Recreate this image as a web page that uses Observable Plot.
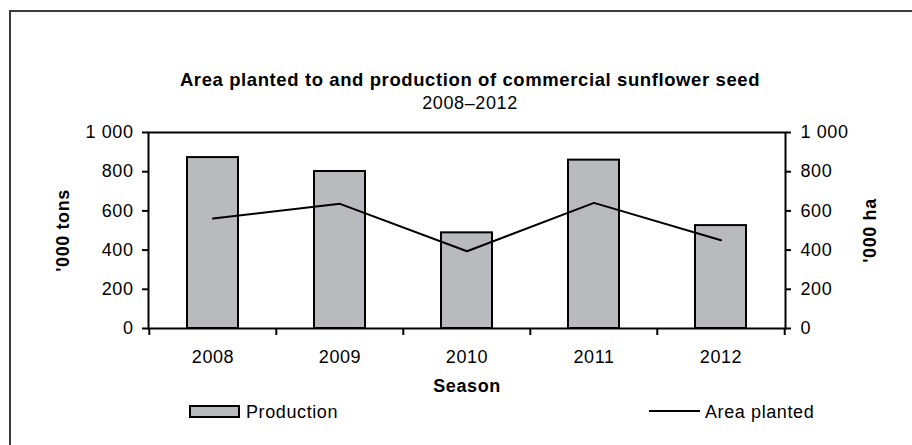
<!DOCTYPE html>
<html><head><meta charset="utf-8">
<script src="https://cdn.jsdelivr.net/npm/d3@7"></script>
<script src="https://cdn.jsdelivr.net/npm/@observablehq/plot@0.6"></script>
<style>
html,body{margin:0;padding:0;background:#fff;overflow:hidden;}
#wrap{position:relative;width:912px;height:445px;font-family:"Liberation Sans",Arial,sans-serif;color:#000;letter-spacing:0.6px;}
#border{position:absolute;left:9px;top:10px;width:1000px;height:1000px;border-left:2px solid #3c3c3c;border-top:2px solid #3c3c3c;}
#chart{position:absolute;left:0;top:0;}
.t{position:absolute;white-space:nowrap;}
#title{left:28px;width:884px;top:71px;text-align:center;font-weight:bold;font-size:18.5px;line-height:18.5px;}
#subtitle{left:28px;width:884px;top:94px;text-align:center;font-size:18px;line-height:18px;}
.lg{top:403px;font-size:18px;line-height:18px;}
#sw1{position:absolute;left:189px;top:405px;width:51px;height:13px;box-sizing:border-box;border:2px solid #000;background:#b9babd;}
#sw2{position:absolute;left:649px;top:410px;width:51px;height:2px;background:#000;}
</style>
</head><body>
<div id="wrap">
  <div id="border"></div>
  <div id="chart"></div>
  <div class="t" id="title"></div>
  <div class="t" id="subtitle"></div>
  <div id="sw1"></div><div class="t lg" id="lg1" style="left:246px"></div>
  <div id="sw2"></div><div class="t lg" id="lg2" style="left:705px"></div>
</div>
<script>
const titleText = "Area planted to and production of commercial sunflower seed";
const subtitleText = "2008–2012";
const seasons = ["2008", "2009", "2010", "2011", "2012"];
const production = [872, 801, 488, 859, 525];
const areaPlanted = [561, 636, 394, 641, 450];
const yTicks = [0, 200, 400, 600, 800, 1000];
const yTickLabels = ["0", "200", "400", "600", "800", "1 000"];
const seriesNames = ["Production", "Area planted"];
const leftLabel = "'000 tons";
const rightLabel = "'000 ha";
const xLabel = "Season";

const data = seasons.map((s, i) => ({season: s, production: production[i], area: areaPlanted[i]}));
const fmt = d => yTickLabels[yTicks.indexOf(d)];

const W = 912, H = 398, mL = 148, mR = 127, mT = 132, mB = 70;
const step = (W - mL - mR) / seasons.length;

const chart = Plot.plot({
  width: W, height: H, marginLeft: mL, marginRight: mR, marginTop: mT, marginBottom: mB,
  style: {fontFamily: "'Liberation Sans', Arial, sans-serif", fontSize: "18px", color: "#000", background: "transparent", letterSpacing: "0.6px"},
  x: {domain: seasons, paddingInner: 0.6, paddingOuter: 0.3},
  y: {domain: [0, 1000]},
  marks: [
    Plot.barY(data, {x: "season", y: "production", fill: "#b9babd", stroke: "#000", strokeWidth: 2}),
    Plot.line(data, {x: "season", y: "area", stroke: "#000", strokeWidth: 2}),
    Plot.frame({stroke: "#000", strokeWidth: 2}),
    Plot.axisY({anchor: "left", ticks: yTicks, tickFormat: fmt, tickSize: 6, tickPadding: 9, label: null, strokeWidth: 2}),
    Plot.axisY({anchor: "right", ticks: yTicks, tickFormat: fmt, tickSize: 5, tickPadding: 10, label: null, strokeWidth: 2}),
    Plot.axisX({anchor: "bottom", tickSize: 0, tickPadding: 22, label: null}),
    Plot.axisX({anchor: "bottom", ticks: seasons, tickFormat: () => "", tickSize: 7, tickPadding: 0, dx: -step / 2, label: null, strokeWidth: 2}),
    Plot.axisX({anchor: "bottom", ticks: seasons.slice(-1), tickFormat: () => "", tickSize: 7, tickPadding: 0, dx: step / 2, label: null, strokeWidth: 2}),
    Plot.text([leftLabel], {frameAnchor: "left", dx: -85, rotate: -90, fontWeight: "bold", lineAnchor: "middle", textAnchor: "middle", fill: "#000"}),
    Plot.text([rightLabel], {frameAnchor: "right", dx: 85, rotate: -90, fontWeight: "bold", lineAnchor: "middle", textAnchor: "middle", fill: "#000"}),
    Plot.text([xLabel], {frameAnchor: "bottom", dy: 58, fontWeight: "bold", lineAnchor: "middle", textAnchor: "middle", fill: "#000"})
  ]
});
document.getElementById("chart").appendChild(chart);
document.getElementById("title").textContent = titleText;
document.getElementById("subtitle").textContent = subtitleText;
document.getElementById("lg1").textContent = seriesNames[0];
document.getElementById("lg2").textContent = seriesNames[1];
</script>
</body></html>
